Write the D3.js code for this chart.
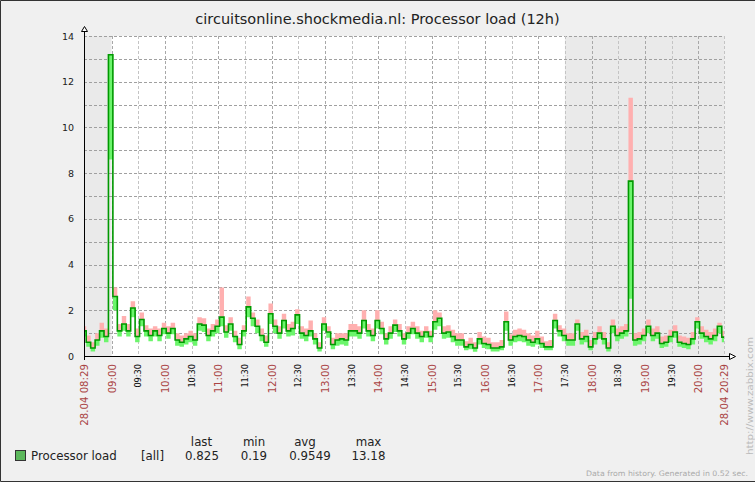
<!DOCTYPE html>
<html>
<head>
<meta charset="utf-8">
<script src="https://cdn.jsdelivr.net/npm/d3@7"></script>
<style>
body { margin: 0; background: #f0f0f0; }
svg { display: block; font-family: "DejaVu Sans", sans-serif; }
</style>
</head>
<body>
<div id="graph"></div>
<script>
// chart values, one sample every 5 minutes from 08:29 to 20:29
var startTime = '2012-04-28T08:29:00';
var endTime = '2012-04-28T20:29:00';
var stepMinutes = 5;

var avgValues = [
    1.1, 0.6, 0.35, 0.7, 1.1, 0.85, 13.18, 2.6, 1.1, 1.4, 1.1, 2.1,
    0.85, 1.6, 1.1, 0.9, 1.1, 0.9, 1.2, 1.0, 1.2, 0.7, 0.6, 0.75,
    0.85, 0.7, 1.4, 1.35, 0.9, 1.1, 1.3, 1.7, 1.05, 1.4, 0.85, 0.5,
    1.1, 2.15, 1.65, 1.3, 0.9, 0.6, 1.85, 1.3, 1.0, 1.55, 1.1, 1.2,
    1.8, 1.0, 0.9, 1.1, 0.75, 0.35, 1.4, 1.05, 0.5, 0.7, 0.75, 0.7,
    1.1, 1.1, 1.0, 1.55, 1.1, 0.9, 1.55, 1.2, 0.75, 1.0, 1.35, 1.1,
    0.75, 1.0, 1.2, 1.0, 0.85, 1.05, 0.85, 1.5, 1.65, 1.0, 1.05, 0.85,
    0.7, 0.7, 0.4, 0.5, 0.35, 0.75, 0.55, 0.5, 0.35, 0.35, 0.4, 1.5,
    0.7, 0.85, 0.9, 0.85, 0.7, 0.6, 0.75, 0.55, 0.4, 0.4, 1.55, 1.1,
    0.9, 0.7, 0.7, 1.4, 0.75, 0.85, 0.4, 0.75, 1.0, 0.75, 0.35, 1.3,
    0.9, 1.0, 1.1, 7.65, 0.7, 0.75, 0.9, 1.3, 0.9, 1.0, 0.55, 0.6,
    0.85, 1.05, 0.6, 0.55, 0.5, 0.75, 1.5, 1.0, 0.85, 0.75, 0.9, 1.3,
    0.825
];

var minValues = [
    0.85, 0.4, 0.2, 0.45, 0.8, 0.6, 8.6, 2.0, 0.85, 1.1, 0.85, 1.7,
    0.6, 1.3, 0.85, 0.65, 0.85, 0.65, 0.95, 0.75, 0.95, 0.45, 0.4, 0.5,
    0.6, 0.45, 1.1, 1.05, 0.65, 0.85, 1.0, 1.3, 0.8, 1.1, 0.6, 0.3,
    0.85, 1.7, 1.3, 1.0, 0.65, 0.4, 1.4, 1.0, 0.75, 1.2, 0.85, 0.9,
    1.4, 0.75, 0.65, 0.85, 0.5, 0.2, 1.1, 0.8, 0.3, 0.45, 0.5, 0.45,
    0.85, 0.85, 0.75, 1.2, 0.85, 0.65, 1.2, 0.95, 0.5, 0.75, 1.05, 0.85,
    0.5, 0.75, 0.95, 0.75, 0.6, 0.8, 0.6, 1.15, 1.3, 0.75, 0.8, 0.6,
    0.45, 0.45, 0.25, 0.3, 0.19, 0.5, 0.35, 0.3, 0.2, 0.2, 0.25, 1.1,
    0.45, 0.6, 0.65, 0.6, 0.45, 0.4, 0.5, 0.35, 0.25, 0.25, 1.2, 0.85,
    0.65, 0.45, 0.45, 1.1, 0.5, 0.6, 0.25, 0.5, 0.75, 0.5, 0.2, 1.0,
    0.65, 0.75, 0.85, 2.5, 0.45, 0.5, 0.65, 1.0, 0.65, 0.75, 0.35, 0.4,
    0.6, 0.8, 0.4, 0.35, 0.3, 0.5, 1.2, 0.75, 0.6, 0.5, 0.65, 1.0,
    0.6
];

var maxValues = [
    1.3, 0.9, 0.6, 1.0, 1.45, 1.2, 13.18, 3.0, 1.4, 1.75, 1.4, 2.4,
    1.2, 1.9, 1.35, 1.2, 1.3, 1.2, 1.45, 1.3, 1.45, 1.0, 0.9, 1.0,
    1.1, 1.0, 1.7, 1.65, 1.2, 1.4, 1.6, 3.0, 1.35, 1.7, 1.1, 0.8,
    1.35, 2.6, 1.9, 1.6, 1.2, 0.9, 2.3, 1.6, 1.3, 1.85, 1.4, 1.5,
    2.05, 1.3, 1.2, 1.55, 1.0, 0.6, 1.7, 1.3, 0.8, 1.0, 1.0, 1.0,
    1.4, 1.4, 1.3, 2.0, 1.4, 1.2, 2.0, 1.5, 1.0, 1.3, 1.6, 1.4,
    1.0, 1.3, 1.5, 1.3, 1.1, 1.3, 1.1, 2.0, 1.9, 1.3, 1.35, 1.15,
    1.0, 1.0, 0.65, 0.8, 0.6, 1.05, 0.85, 0.8, 0.6, 0.6, 0.7, 1.95,
    0.95, 1.15, 1.2, 1.15, 1.0, 0.9, 1.1, 0.85, 0.65, 0.7, 1.85, 1.35,
    1.2, 1.0, 1.0, 1.6, 1.05, 1.15, 0.7, 1.05, 1.3, 1.05, 0.6, 1.6,
    1.2, 1.3, 1.4, 11.3, 1.0, 1.05, 1.2, 1.6, 1.2, 1.3, 0.85, 0.9,
    1.15, 1.35, 0.9, 0.85, 0.8, 1.05, 1.7, 1.3, 1.15, 1.05, 1.2, 1.45,
    1.1
];

var yTicks = [0, 2, 4, 6, 8, 10, 12, 14];
var yGridLines = [1, 2, 3, 4, 5, 6, 7, 8, 9, 10, 11, 12, 13, 14];
var offPeriods = [
    ['2012-04-28T08:29:00', '2012-04-28T09:00:00'],
    ['2012-04-28T17:30:00', '2012-04-28T20:29:00']
];
var edgeLabels = ['28.04 08:29', '28.04 20:29'];
var legendName = 'Processor load';
var legendFunc = '[all]';
var legendHeaders = ['last', 'min', 'avg', 'max'];
var legendValues = ['0.825', '0.19', '0.9549', '13.18'];

var width = 755;
var height = 482;
var plotLeft = 84;
var plotRight = 724;
var plotTop = 36;
var plotBottom = 356;

var parse = d3.isoParse;
var t0 = parse(startTime);
var t1 = parse(endTime);

var data = avgValues.map((v, i) => ({
    t: d3.timeMinute.offset(t0, i * stepMinutes),
    avg: v,
    min: minValues[i],
    max: maxValues[i]
}));

var svg = d3.select('#graph').append('svg')
    .attr('width', width)
    .attr('height', height);

svg.append('rect')
    .attr('width', width).attr('height', height)
    .attr('fill', '#f0f0f0');

// outer frame (top, left, bottom)
svg.append('path')
    .attr('d', `M${width},0.5H0.5V${height - 0.5}H${width}`)
    .attr('fill', 'none')
    .attr('stroke', '#333');

var x = d3.scaleTime().domain([t0, t1]).range([plotLeft, plotRight]);
var y = d3.scaleLinear().domain([0, 14]).range([plotBottom, plotTop]);

svg.append('text')
    .text('circuitsonline.shockmedia.nl: Processor load (12h)')
    .attr('x', width / 2)
    .attr('y', 24)
    .attr('text-anchor', 'middle')
    .attr('font-size', 14.5)
    .attr('fill', '#222');

// plot background and non-working time
svg.append('rect')
    .attr('x', plotLeft).attr('y', plotTop)
    .attr('width', plotRight - plotLeft).attr('height', plotBottom - plotTop)
    .attr('fill', '#fff');

svg.selectAll('.offTime')
    .data(offPeriods)
    .enter()
    .append('rect')
    .attr('class', 'offTime')
    .attr('x', d => x(parse(d[0])))
    .attr('y', plotTop)
    .attr('width', d => x(parse(d[1])) - x(parse(d[0])))
    .attr('height', plotBottom - plotTop)
    .attr('fill', '#eaeaea');

// grid
svg.selectAll('.hGrid')
    .data(yGridLines)
    .enter()
    .append('line')
    .attr('class', 'hGrid')
    .attr('x1', plotLeft).attr('x2', plotRight)
    .attr('y1', d => Math.round(y(d)) + 0.5)
    .attr('y2', d => Math.round(y(d)) + 0.5)
    .attr('stroke', '#a0a0a0')
    .attr('stroke-dasharray', '3,2');

// half hour marks, skipping the one that falls on the start
var halfHours = d3.timeMinute.every(30).range(t0, t1)
    .filter(d => d - t0 > 10 * 60000);

svg.selectAll('.vGrid')
    .data(halfHours.concat([t1]))
    .enter()
    .append('line')
    .attr('class', 'vGrid')
    .attr('x1', d => Math.round(x(d)) + 0.5)
    .attr('x2', d => Math.round(x(d)) + 0.5)
    .attr('y1', plotTop).attr('y2', plotBottom)
    .attr('stroke', d => d.getMinutes() === 0 ? '#a8a8a8' : '#c4c4c4')
    .attr('stroke-dasharray', '3,2');

// data: max area, min area, avg line
var curve = d3.curveStep;

var maxArea = d3.area()
    .curve(curve)
    .x(d => x(d.t))
    .y0(d => y(d.avg))
    .y1(d => y(d.max));

var minArea = d3.area()
    .curve(curve)
    .x(d => x(d.t))
    .y0(d => y(d.min))
    .y1(d => y(d.avg));

var avgLine = d3.line()
    .curve(curve)
    .x(d => x(d.t))
    .y(d => y(d.avg));

svg.append('path')
    .datum(data)
    .attr('d', maxArea)
    .attr('fill', '#ffb0b0');

svg.append('path')
    .datum(data)
    .attr('d', minArea)
    .attr('fill', '#6cf56c');

svg.append('path')
    .datum(data)
    .attr('d', avgLine)
    .attr('fill', 'none')
    .attr('stroke', '#009900')
    .attr('stroke-width', 1.6);

// axes with arrows
svg.append('line')
    .attr('x1', plotLeft + 0.5).attr('x2', plotLeft + 0.5)
    .attr('y1', 31).attr('y2', plotBottom + 4)
    .attr('stroke', '#000');

svg.append('line')
    .attr('x1', plotLeft).attr('x2', 729)
    .attr('y1', plotBottom + 0.5).attr('y2', plotBottom + 0.5)
    .attr('stroke', '#000');

svg.append('path')
    .attr('d', `M${plotLeft + 0.5},26.5L${plotLeft - 2.5},31.5H${plotLeft + 3.5}Z`)
    .attr('fill', '#fff')
    .attr('stroke', '#000');

svg.append('path')
    .attr('d', `M735.5,${plotBottom + 0.5}L729.5,${plotBottom - 2.5}V${plotBottom + 3.5}Z`)
    .attr('fill', '#fff')
    .attr('stroke', '#000');

// y labels
svg.selectAll('.yLabel')
    .data(yTicks)
    .enter()
    .append('text')
    .attr('class', 'yLabel')
    .text(d => d)
    .attr('x', 74)
    .attr('y', d => y(d) + 3.5)
    .attr('text-anchor', 'end')
    .attr('font-size', 9.5)
    .attr('fill', '#222');

// x labels
var fmt = d3.timeFormat('%H:%M');
var xLabels = halfHours.map(d => ({
    t: d,
    text: fmt(d),
    main: d.getMinutes() === 0
}));
xLabels.unshift({ t: t0, text: edgeLabels[0], main: true });
xLabels.push({ t: t1, text: edgeLabels[1], main: true });

svg.selectAll('.xLabel')
    .data(xLabels)
    .enter()
    .append('text')
    .attr('class', 'xLabel')
    .text(d => d.text)
    .attr('text-anchor', 'end')
    .attr('font-size', d => d.main ? 10.2 : 8.2)
    .attr('fill', d => d.main ? '#aa4444' : '#111')
    .attr('transform', d => `translate(${x(d.t) + (d.main ? 4 : 3.2)},364)rotate(-90)`);

// legend
svg.append('rect')
    .attr('x', 15.5).attr('y', 450.5)
    .attr('width', 10).attr('height', 10)
    .attr('fill', '#5cb85c')
    .attr('stroke', '#333');

svg.append('text')
    .text(legendName)
    .attr('x', 31).attr('y', 460)
    .attr('font-size', 11.8)
    .attr('fill', '#222');

svg.append('text')
    .text(legendFunc)
    .attr('x', 141).attr('y', 460)
    .attr('font-size', 11.8)
    .attr('fill', '#222');

var headerX = [201.5, 254, 305, 368.5];
var valueX = [202, 254, 310, 368.5];

svg.selectAll('.legendHead')
    .data(legendHeaders)
    .enter()
    .append('text')
    .attr('class', 'legendHead')
    .text(d => d)
    .attr('x', (d, i) => headerX[i])
    .attr('y', 446)
    .attr('text-anchor', 'middle')
    .attr('font-size', 11.8)
    .attr('fill', '#222');

svg.selectAll('.legendValue')
    .data(legendValues)
    .enter()
    .append('text')
    .attr('class', 'legendValue')
    .text(d => d)
    .attr('x', (d, i) => valueX[i])
    .attr('y', 460)
    .attr('text-anchor', 'middle')
    .attr('font-size', 11.8)
    .attr('fill', '#222');

// footer and watermark
svg.append('text')
    .text('Data from history. Generated in 0.52 sec.')
    .attr('x', 586).attr('y', 476)
    .attr('font-size', 7.5)
    .attr('textLength', 162)
    .attr('lengthAdjust', 'spacingAndGlyphs')
    .attr('fill', '#aaa');

svg.append('text')
    .text('http://www.zabbix.com')
    .attr('font-size', 8)
    .attr('textLength', 118)
    .attr('lengthAdjust', 'spacingAndGlyphs')
    .attr('fill', '#bbb')
    .attr('transform', 'translate(752.5,455)rotate(-90)');
</script>
</body>
</html>
